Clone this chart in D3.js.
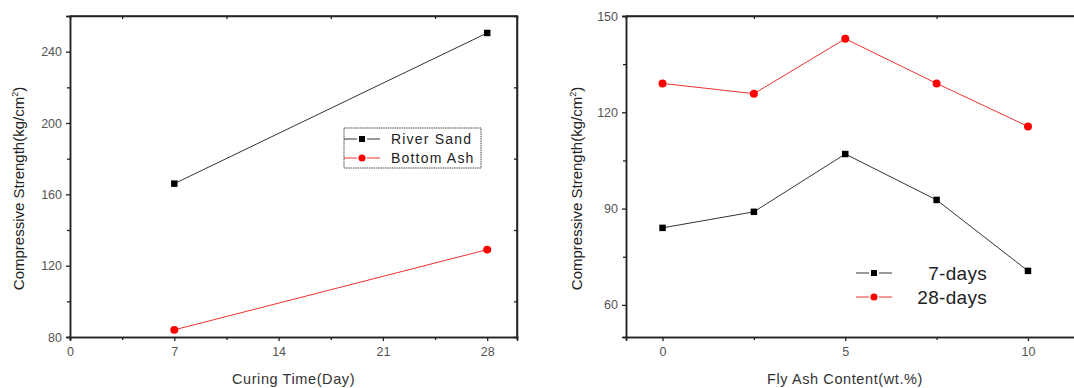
<!DOCTYPE html>
<html>
<head>
<meta charset="utf-8">
<script src="https://cdn.jsdelivr.net/npm/d3@7"></script>
<style>
  body { margin: 0; background: #fff; }
  svg { font-family: "Liberation Sans", Arial, sans-serif; }
</style>
</head>
<body>
<div class="canvas"></div>
<script>
// left panel: curing time
const curingDays = [7, 28];
const riverSand = [166, 250.5];
const bottomAsh = [84, 129];
const curingTicks = [0, 7, 14, 21, 28];
const strengthTicksL = [80, 120, 160, 200, 240];

// right panel: fly ash content
const flyAsh = [0, 2.5, 5, 7.5, 10];
const days7 = [84, 89, 107, 92.7, 70.6];
const days28 = [129, 125.8, 142.9, 129, 115.6];
const flyAshTicks = [0, 5, 10];
const strengthTicksR = [60, 90, 120, 150];

const svg = d3.select('.canvas')
  .append('svg')
  .attr('width', 1074)
  .attr('height', 388);

function panel(o) {
  const g = svg.append('g');
  const x = d3.scaleLinear().domain(o.xDomain).range([o.left, o.right]);
  const y = d3.scaleLinear().domain(o.yDomain).range([o.bottom, o.top]);

  // frame (top + right mirror)
  g.append('path')
    .attr('d', `M${o.left},${o.top}H${o.right}V${o.bottom}`)
    .attr('fill', 'none').attr('stroke', '#222').attr('stroke-width', 1.5);

  // bottom axis
  g.append('g').attr('class', 'lab').attr('transform', `translate(0,${o.bottom})`)
    .call(d3.axisBottom(x).tickValues(o.xTicks).tickSize(4).tickPadding(6));
  g.append('g').attr('transform', `translate(0,${o.bottom})`)
    .call(d3.axisBottom(x).tickValues(o.xMinor).tickSize(3).tickFormat(''));
  // left axis
  g.append('g').attr('class', 'lab').attr('transform', `translate(${o.left},0)`)
    .call(d3.axisLeft(y).tickValues(o.yTicks).tickSize(4).tickPadding(4));
  g.append('g').attr('transform', `translate(${o.left},0)`)
    .call(d3.axisLeft(y).tickValues(o.yMinor).tickSize(3).tickFormat(''));
  // mirrored inner ticks
  g.append('g').attr('transform', `translate(0,${o.top})`)
    .call(d3.axisBottom(x).tickValues(o.xMinor).tickSize(3).tickFormat(''));
  if (o.mirrorRight) {
    g.append('g').attr('transform', `translate(${o.right},0)`)
      .call(d3.axisRight(y).tickValues(o.yMinor).tickSize(-3).tickFormat(''));
  }

  g.selectAll('.domain').attr('stroke', '#222').attr('stroke-width', 1.5);
  g.selectAll('.tick line').attr('stroke', '#222').attr('stroke-width', 1.3);
  g.selectAll('.tick text').attr('fill', '#555').style('font-size', '12.5px');

  // titles
  g.append('text')
    .attr('x', (o.left + Math.min(o.right, 1074)) / 2 + o.xTitleShift)
    .attr('y', 384)
    .attr('text-anchor', 'middle')
    .attr('fill', '#333').style('font-size', '14.5px').style('letter-spacing', '0.6px')
    .text(o.xTitle);
  const yt = g.append('text')
    .attr('transform', `translate(${o.yTitleX},${(o.top + o.bottom) / 2 + 12}) rotate(-90)`)
    .attr('text-anchor', 'middle')
    .attr('fill', '#222').style('font-size', '15px');
  yt.append('tspan').text('Compressive Strength(kg/cm');
  yt.append('tspan').attr('dy', -6).style('font-size', '9px').text('2');
  yt.append('tspan').attr('dy', 6).text(')');

  // series
  o.series.forEach(s => {
    const pts = o.xs.map((d, i) => [d, s.values[i]]);
    g.append('path')
      .attr('d', d3.line().x(d => x(d[0])).y(d => y(d[1]))(pts))
      .attr('fill', 'none').attr('stroke', s.line).attr('stroke-width', 1);
    g.selectAll(null).data(pts).join('path')
      .attr('transform', d => `translate(${x(d[0])},${y(d[1])})`)
      .attr('d', d3.symbol(s.shape, s.shape === d3.symbolSquare ? 42 : 50)())
      .attr('fill', s.color);
  });
  return g;
}

const left = panel({
  left: 70, right: 517, top: 16, bottom: 337,
  xDomain: [0, 30], yDomain: [80, 260],
  xTicks: curingTicks, xMinor: [3.5, 10.5, 17.5, 24.5],
  yTicks: strengthTicksL, yMinor: [100, 140, 180, 220],
  mirrorRight: true,
  xs: curingDays,
  xTitle: 'Curing Time(Day)', xTitleShift: 0, yTitleX: 24,
  series: [
    { values: riverSand, line: '#333', color: '#000', shape: d3.symbolSquare },
    { values: bottomAsh, line: '#f03030', color: '#ff0000', shape: d3.symbolCircle }
  ]
});

const right = panel({
  left: 626, right: 1100, top: 16, bottom: 337,
  xDomain: [-1, (1100 - 662.7) / 36.53], yDomain: [50, 150],
  xTicks: flyAshTicks, xMinor: [2.5, 7.5],
  yTicks: strengthTicksR, yMinor: [75, 105, 135],
  mirrorRight: false,
  xs: flyAsh,
  xTitle: 'Fly Ash Content(wt.%)', xTitleShift: -5, yTitleX: 582,
  series: [
    { values: days7, line: '#333', color: '#000', shape: d3.symbolSquare },
    { values: days28, line: '#f03030', color: '#ff0000', shape: d3.symbolCircle }
  ]
});

// legends
function legendRow(g, x0, yc, s, label, opts) {
  g.append('line').attr('x1', x0).attr('x2', x0 + 13).attr('y1', yc).attr('y2', yc)
    .attr('stroke', s.line).attr('stroke-width', 1);
  g.append('line').attr('x1', x0 + 23).attr('x2', x0 + 36).attr('y1', yc).attr('y2', yc)
    .attr('stroke', s.line).attr('stroke-width', 1);
  g.append('path').attr('transform', `translate(${x0 + 18},${yc})`)
    .attr('d', d3.symbol(s.shape, s.shape === d3.symbolSquare ? 36 : 40)())
    .attr('fill', s.color);
  g.append('text').attr('x', opts.tx).attr('y', yc + opts.dy)
    .attr('text-anchor', opts.anchor).attr('fill', '#222')
    .style('font-size', opts.size).style('letter-spacing', opts.ls)
    .text(label);
}

left.append('rect').attr('x', 344).attr('y', 128).attr('width', 137).attr('height', 40)
  .attr('fill', '#fff').attr('stroke', '#444').attr('stroke-width', 1).attr('stroke-dasharray', '1.5,0.8');
legendRow(left, 344, 139, { line: '#333', color: '#000', shape: d3.symbolSquare }, 'River Sand',
  { tx: 391, dy: 5, anchor: 'start', size: '14px', ls: '1.2px' });
legendRow(left, 344, 158, { line: '#f03030', color: '#ff0000', shape: d3.symbolCircle }, 'Bottom Ash',
  { tx: 391, dy: 5, anchor: 'start', size: '14px', ls: '1.2px' });

legendRow(right, 856, 273, { line: '#333', color: '#000', shape: d3.symbolSquare }, '7-days',
  { tx: 987, dy: 7, anchor: 'end', size: '19px', ls: '0.3px' });
legendRow(right, 856, 297, { line: '#f03030', color: '#ff0000', shape: d3.symbolCircle }, '28-days',
  { tx: 987, dy: 7, anchor: 'end', size: '19px', ls: '0.3px' });
</script>
</body>
</html>
